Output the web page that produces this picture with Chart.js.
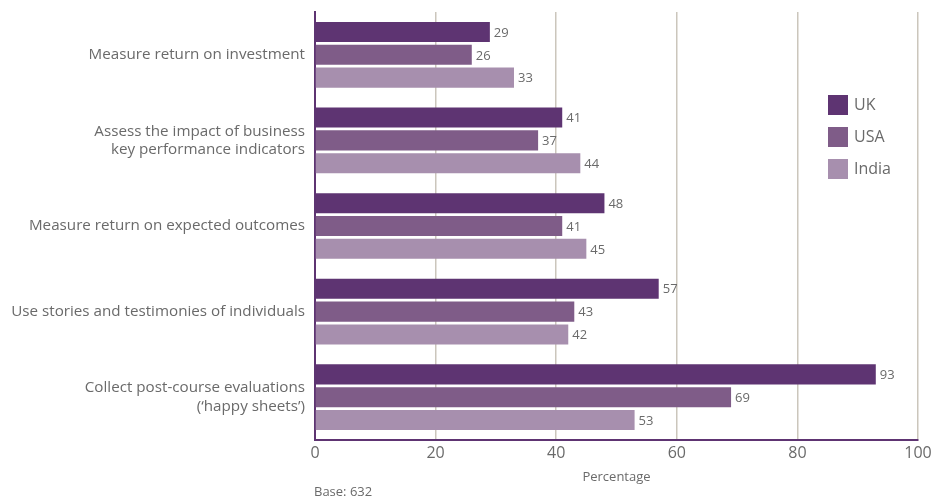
<!DOCTYPE html>
<html>
<head>
<meta charset="utf-8">
<script src="https://cdn.jsdelivr.net/npm/chart.js@4"></script>
<style>
  html, body { margin: 0; padding: 0; background: #fff; }
  #wrap { width: 932px; height: 500px; position: relative; }
</style>
</head>
<body>
<div id="wrap"><canvas id="c" width="932" height="500"></canvas></div>
<script>
const categories = [
  'Measure return on investment',
  ['Assess the impact of business', 'key performance indicators'],
  'Measure return on expected outcomes',
  'Use stories and testimonies of individuals',
  ['Collect post-course evaluations', '(\u2018happy sheets\u2019)']
];
const seriesNames = ['UK', 'USA', 'India'];
const ukValues = [29, 41, 48, 57, 93];
const usaValues = [26, 37, 41, 43, 69];
const indiaValues = [33, 44, 45, 42, 53];
const xTicks = [0, 20, 40, 60, 80, 100];

const colors = ['#5e3472', '#7f5c88', '#a78fae'];
const textColor = '#6a6a6a';
const fontFamily = '"Open Sans", "Noto Sans", sans-serif';

// value labels at the end of each bar
const valueLabels = {
  id: 'valueLabels',
  afterDatasetsDraw(chart) {
    const ctx = chart.ctx;
    ctx.save();
    ctx.font = '13px ' + fontFamily;
    ctx.fillStyle = textColor;
    ctx.textAlign = 'left';
    ctx.textBaseline = 'middle';
    chart.data.datasets.forEach((ds, i) => {
      chart.getDatasetMeta(i).data.forEach((bar, j) => {
        ctx.fillText(String(ds.data[j]), bar.x + 4, bar.y + 1);
      });
    });
    ctx.restore();
  }
};

// legend inside the plot area, plus axis title and base note
const extras = {
  id: 'extras',
  afterDraw(chart) {
    const ctx = chart.ctx;
    const area = chart.chartArea;
    ctx.save();
    ctx.textBaseline = 'middle';
    ctx.textAlign = 'left';
    ctx.font = '16px ' + fontFamily;
    chart.data.datasets.forEach((ds, i) => {
      const y = 95 + i * 32;
      ctx.fillStyle = ds.backgroundColor;
      ctx.fillRect(828, y, 20, 20);
      ctx.fillStyle = textColor;
      ctx.fillText(ds.label, 854, y + 10);
    });
    ctx.font = '13px ' + fontFamily;
    ctx.textAlign = 'center';
    ctx.fillText('Percentage', (area.left + area.right) / 2, 477);
    ctx.textAlign = 'left';
    ctx.fillText('Base: 632', area.left - 1, 492);
    ctx.restore();
  }
};

new Chart(document.getElementById('c'), {
  type: 'bar',
  data: {
    labels: categories,
    datasets: [
      { label: seriesNames[0], data: ukValues, backgroundColor: colors[0] },
      { label: seriesNames[1], data: usaValues, backgroundColor: colors[1] },
      { label: seriesNames[2], data: indiaValues, backgroundColor: colors[2] }
    ]
  },
  options: {
    indexAxis: 'y',
    responsive: false,
    animation: false,
    devicePixelRatio: 1,
    layout: { padding: { top: 12, right: 14, left: 0, bottom: 0 } },
    datasets: { bar: { categoryPercentage: 0.8, barPercentage: 0.88 } },
    plugins: { legend: { display: false }, tooltip: { enabled: false } },
    scales: {
      x: {
        min: 0, max: 100,
        afterBuildTicks(scale) { scale.ticks = xTicks.map(v => ({ value: v })); },
        afterFit(scale) {
          scale.height = 60;
          scale.paddingLeft = 0;
          scale.paddingRight = 0;
        },
        grid: { color: '#cbc6bc', lineWidth: 1.5, drawTicks: false },
        border: { color: '#5e3472', width: 2 },
        ticks: { color: textColor, font: { size: 16, family: fontFamily }, padding: 4 }
      },
      y: {
        afterFit(scale) {
          scale.width = 315;
          scale.paddingTop = 0;
          scale.paddingBottom = 0;
        },
        grid: { display: false, drawTicks: false },
        border: { color: '#5e3472', width: 2 },
        ticks: { color: textColor, font: { size: 15.2, family: fontFamily, lineHeight: 1.2 }, padding: 10 }
      }
    }
  },
  plugins: [valueLabels, extras]
});
</script>
</body>
</html>
